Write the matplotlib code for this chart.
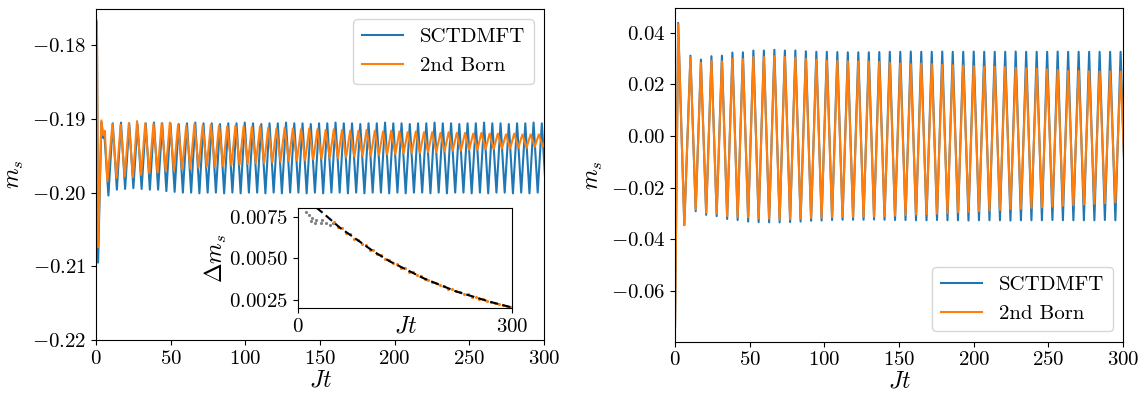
import numpy as np
import matplotlib
matplotlib.use("Agg")
import matplotlib.pyplot as plt

plt.rcParams.update({
    "font.family": "serif",
    "font.serif": ["cmr10"],
    "mathtext.fontset": "cm",
    "axes.formatter.use_mathtext": True,
    "font.size": 15,
})

BLUE, ORANGE = "#1f77b4", "#ff7f0e"

# ---- left panel: m_s(t), transient followed by peak/trough per cycle ----
L_sct_t0 = [0.0, 0.6, 1.4, 3.6, 4.8, 5.6, 8.3]
L_sct_v0 = [-0.1765, -0.1770, -0.2095, -0.1904, -0.1926, -0.1921, -0.2004]
L_sct_first, L_sct_period = 11.2, 5.525
L_sct_peaks = [
    -0.1906, -0.1905, -0.1906, -0.1907, -0.1906, -0.1905, -0.1906, -0.1906, -0.1907, -0.1906,
    -0.1905, -0.1906, -0.1906, -0.1907, -0.1906, -0.1906, -0.1905, -0.1906, -0.1907, -0.1906,
    -0.1906, -0.1905, -0.1906, -0.1906, -0.1907, -0.1906, -0.1906, -0.1905, -0.1906, -0.1906,
    -0.1907, -0.1906, -0.1906, -0.1905, -0.1906, -0.1906, -0.1907, -0.1906, -0.1906, -0.1905,
    -0.1906, -0.1906, -0.1907, -0.1906, -0.1906, -0.1905, -0.1906, -0.1906, -0.1907, -0.1906,
    -0.1906, -0.1905, -0.1906]
L_sct_troughs = [
    -0.1996, -0.1995, -0.1994, -0.1995, -0.1996, -0.1996, -0.1998, -0.1999, -0.2000, -0.2000,
    -0.2001, -0.2000, -0.2000, -0.2001, -0.2000, -0.2001, -0.2000, -0.2000, -0.2001, -0.2000,
    -0.2001, -0.2000, -0.2000, -0.2001, -0.2000, -0.2001, -0.2000, -0.2000, -0.2001, -0.2000,
    -0.2001, -0.2000, -0.2000, -0.2001, -0.2000, -0.2001, -0.2000, -0.2000, -0.2001, -0.2000,
    -0.2001, -0.2000, -0.2000, -0.2001, -0.2000, -0.2001, -0.2000, -0.2000, -0.2001, -0.2000,
    -0.2001, -0.2000, -0.2000]

L_born_t0 = [0.0, 0.6, 1.4, 3.6, 4.8, 5.9, 7.6]
L_born_v0 = [-0.1765, -0.1770, -0.2074, -0.1902, -0.1922, -0.1916, -0.1985]
L_born_first, L_born_period = 11.0, 5.49
L_born_peaks = [
    -0.1907, -0.1908, -0.1906, -0.1903, -0.1906, -0.1907, -0.1906, -0.1905, -0.1908, -0.1909,
    -0.1907, -0.1909, -0.1908, -0.1909, -0.1910, -0.1909, -0.1910, -0.1911, -0.1910, -0.1912,
    -0.1913, -0.1912, -0.1913, -0.1914, -0.1913, -0.1914, -0.1915, -0.1914, -0.1915, -0.1916,
    -0.1916, -0.1915, -0.1916, -0.1917, -0.1916, -0.1917, -0.1918, -0.1917, -0.1918, -0.1918,
    -0.1919, -0.1918, -0.1919, -0.1919, -0.1920, -0.1919, -0.1920, -0.1920, -0.1921, -0.1920,
    -0.1921, -0.1921, -0.1921, -0.1922]
L_born_troughs = [
    -0.1980, -0.1978, -0.1979, -0.1976, -0.1974, -0.1973, -0.1971, -0.1970, -0.1968, -0.1967,
    -0.1966, -0.1965, -0.1965, -0.1964, -0.1963, -0.1962, -0.1961, -0.1960, -0.1960, -0.1959,
    -0.1958, -0.1957, -0.1956, -0.1956, -0.1955, -0.1954, -0.1953, -0.1953, -0.1952, -0.1951,
    -0.1950, -0.1950, -0.1949, -0.1948, -0.1948, -0.1947, -0.1946, -0.1946, -0.1945, -0.1945,
    -0.1944, -0.1943, -0.1943, -0.1942, -0.1942, -0.1941, -0.1941, -0.1940, -0.1940, -0.1939,
    -0.1939, -0.1938, -0.1938, -0.1938]

# ---- inset: oscillation amplitude of the 2nd Born curve ----
inset_early_t = [11.6, 16.2, 19.5, 18.2, 25.6, 24.2, 33.5, 32.1, 39.6, 45.2, 48.9]
inset_early_v = [0.00778, 0.00758, 0.00744, 0.00723, 0.00730, 0.00710, 0.00730, 0.00710,
                 0.00710, 0.00697, 0.00710]
inset_first, inset_step = 51.0, 5.49
inset_v = [
    0.00720, 0.00690, 0.00682, 0.00652, 0.00646, 0.00617, 0.00611, 0.00584, 0.00579, 0.00552,
    0.00547, 0.00523, 0.00518, 0.00495, 0.00490, 0.00469, 0.00464, 0.00443, 0.00439, 0.00420,
    0.00415, 0.00398, 0.00393, 0.00376, 0.00372, 0.00356, 0.00352, 0.00337, 0.00333, 0.00318,
    0.00316, 0.00301, 0.00299, 0.00285, 0.00283, 0.00270, 0.00267, 0.00256, 0.00253, 0.00242,
    0.00239, 0.00229, 0.00227, 0.00217, 0.00215, 0.00206]
fit_t = [25.6, 35.8, 59.1, 82.5, 105.7, 129.0, 152.4, 175.6, 198.9, 222.3, 245.5, 268.8, 292.2, 300.0]
fit_v = [0.00805, 0.00770, 0.00683, 0.00613, 0.00542, 0.00481, 0.00431, 0.00381, 0.00340,
         0.00300, 0.00270, 0.00239, 0.00213, 0.00205]

# ---- right panel ----
R_sct_t0 = [0.0, 2.1, 6.2]
R_sct_v0 = [-0.0737, 0.0438, -0.0345]
R_born_t0 = [0.0, 2.1, 6.2]
R_born_v0 = [-0.0737, 0.0433, -0.0345]
R_first, R_period = 10.3, 7.025
R_sct_peaks = [
    0.0311, 0.0296, 0.0309, 0.0311, 0.0323, 0.0324, 0.0331, 0.0331, 0.0334, 0.0331,
    0.0331, 0.0328, 0.0326, 0.0326, 0.0325, 0.0324, 0.0324, 0.0324, 0.0325, 0.0326,
    0.0326, 0.0327, 0.0326, 0.0326, 0.0327, 0.0326, 0.0326, 0.0327, 0.0326, 0.0326,
    0.0326, 0.0327, 0.0326, 0.0326, 0.0326, 0.0327, 0.0326, 0.0326, 0.0326, 0.0326,
    0.0326, 0.0326]
R_sct_troughs = [
    -0.0291, -0.0305, -0.0310, -0.0321, -0.0325, -0.0331, -0.0333, -0.0334, -0.0334, -0.0333,
    -0.0331, -0.0328, -0.0327, -0.0325, -0.0324, -0.0324, -0.0324, -0.0323, -0.0324, -0.0325,
    -0.0325, -0.0326, -0.0326, -0.0325, -0.0326, -0.0326, -0.0327, -0.0326, -0.0326, -0.0326,
    -0.0327, -0.0326, -0.0326, -0.0326, -0.0325, -0.0326, -0.0326, -0.0326, -0.0326, -0.0325,
    -0.0326, -0.0326]
R_born_peaks = [
    0.0304, 0.0283, 0.0292, 0.0289, 0.0299, 0.0298, 0.0306, 0.0306, 0.0309, 0.0306,
    0.0304, 0.0299, 0.0296, 0.0292, 0.0291, 0.0289, 0.0289, 0.0288, 0.0287, 0.0283,
    0.0281, 0.0278, 0.0281, 0.0278, 0.0275, 0.0274, 0.0273, 0.0270, 0.0268, 0.0268,
    0.0267, 0.0264, 0.0262, 0.0261, 0.0258, 0.0256, 0.0252, 0.0252, 0.0251, 0.0250,
    0.0250, 0.0249]
R_born_troughs = [
    -0.0284, -0.0297, -0.0300, -0.0310, -0.0313, -0.0315, -0.0319, -0.0320, -0.0323, -0.0322,
    -0.0320, -0.0317, -0.0316, -0.0314, -0.0313, -0.0313, -0.0312, -0.0312, -0.0310, -0.0308,
    -0.0306, -0.0304, -0.0302, -0.0300, -0.0298, -0.0295, -0.0293, -0.0291, -0.0288, -0.0286,
    -0.0283, -0.0281, -0.0278, -0.0276, -0.0273, -0.0270, -0.0268, -0.0265, -0.0262, -0.0260,
    -0.0257, -0.0255]


def series(t0, v0, first, period, peaks, troughs):
    """Join the transient with alternating peak/trough points of each cycle."""
    tp = first + period * np.arange(len(peaks))
    t = np.empty(2 * len(peaks))
    v = np.empty(2 * len(peaks))
    t[0::2], t[1::2] = tp, tp + period / 2
    v[0::2], v[1::2] = peaks, troughs
    return np.r_[t0, t], np.r_[v0, v]


def fmt(decimals):
    return matplotlib.ticker.FuncFormatter(lambda y, _: f"${y:.{decimals}f}$")


fig = plt.figure(figsize=(11.43, 3.94), dpi=100)
axL = fig.add_axes([0.084, 0.137, 0.392, 0.840])
axR = fig.add_axes([0.5906, 0.1327, 0.392, 0.846])
axI = fig.add_axes([0.2605, 0.2175, 0.1877, 0.2538])

t, v = series(L_sct_t0, L_sct_v0, L_sct_first, L_sct_period, L_sct_peaks, L_sct_troughs)
axL.plot(t, v, color=BLUE, lw=1.5, label="SCTDMFT")
t, v = series(L_born_t0, L_born_v0, L_born_first, L_born_period, L_born_peaks, L_born_troughs)
axL.plot(t, v, color=ORANGE, lw=1.5, label="2nd Born")
axL.set_xlim(0, 300)
axL.set_ylim(-0.22, -0.1751)
axL.set_xticks(np.arange(0, 301, 50))
axL.set_yticks([-0.22, -0.21, -0.20, -0.19, -0.18])
axL.yaxis.set_major_formatter(fmt(2))
axL.set_xlabel(r"$Jt$", fontsize=17, labelpad=1)
axL.set_ylabel(r"$m_s$", fontsize=17)
axL.legend(loc="upper right")

axI.plot(inset_early_t, inset_early_v, ".", color="gray", ms=2.5)
axI.plot(inset_first + inset_step * np.arange(len(inset_v)), inset_v, ".", color=ORANGE, ms=2.5)
axI.plot(fit_t, fit_v, "--", color="black", lw=1.5, dashes=(4, 2))
axI.set_xlim(0, 300)
axI.set_ylim(0.0020, 0.0080)
axI.set_xticks([0, 300])
axI.set_yticks([0.0025, 0.0050, 0.0075])
axI.yaxis.set_major_formatter(fmt(4))
axI.set_xlabel(r"$Jt$", fontsize=17, labelpad=-15)
axI.set_ylabel(r"$\Delta m_s$", fontsize=17, labelpad=0)

t, v = series(R_sct_t0, R_sct_v0, R_first, R_period, R_sct_peaks, R_sct_troughs)
axR.plot(t, v, color=BLUE, lw=1.5, label="SCTDMFT")
t, v = series(R_born_t0, R_born_v0, R_first, R_period, R_born_peaks, R_born_troughs)
axR.plot(t, v, color=ORANGE, lw=1.5, label="2nd Born")
axR.set_xlim(0, 300)
axR.set_ylim(-0.0796, 0.0494)
axR.set_xticks(np.arange(0, 301, 50))
axR.set_yticks([-0.06, -0.04, -0.02, 0.00, 0.02, 0.04])
axR.yaxis.set_major_formatter(fmt(2))
axR.set_xlabel(r"$Jt$", fontsize=17, labelpad=1)
axR.set_ylabel(r"$m_s$", fontsize=17)
axR.legend(loc="lower right")

fig.savefig("out.png", dpi=100)
